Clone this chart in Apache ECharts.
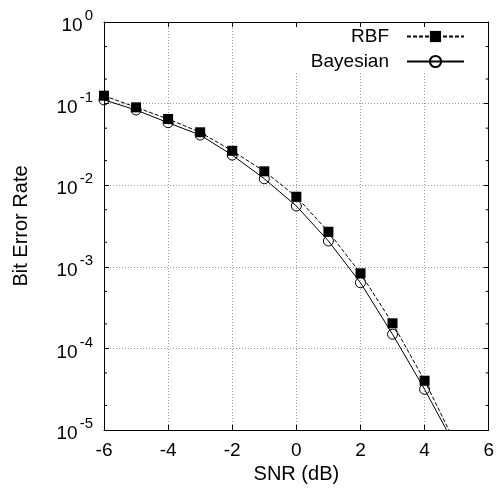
<!DOCTYPE html>
<html><head><meta charset="utf-8">
<script src="https://cdn.jsdelivr.net/npm/echarts@6/dist/echarts.min.js"></script>
<style>html,body{margin:0;padding:0;background:#fff}#c{width:497px;height:497px}</style>
</head><body><div id="c"></div>
<script>
const snr = [-6,-5,-4,-3,-2,-1,0,1,2,3,4,5];
const rbf = [0.125,0.090,0.0648,0.0445,0.0264,0.0148,0.00723,0.00269,0.000832,0.000203,0.0000402,0.0000064];
const bayesian = [0.111,0.0835,0.0583,0.0412,0.0234,0.0120,0.00556,0.00207,0.000638,0.000149,0.0000315,0.0000059];
const xTicks = [-6,-4,-2,0,2,4,6];
const minorTicks = [0.5,0.2,0.05,0.02,0.005,0.002,0.0005,0.0002,0.00005,0.00002];

const font = 'Liberation Sans';
const chart = echarts.init(document.getElementById('c'));
chart.setOption({
  animation: false,
  backgroundColor: '#fff',
  textStyle: {fontFamily: font},
  grid: {left: 104, right: 8, top: 22, bottom: 67},
  legend: {
    data: ['RBF','Bayesian'],
    orient: 'vertical', align: 'right',
    right: 12, top: 27,
    padding: [0, 20, 0, 17],
    itemGap: 6, itemWidth: 57, itemHeight: 14,
    backgroundColor: '#fff',
    textStyle: {fontFamily: font, fontSize: 19, color: '#000', lineHeight: 19, padding: [0, 13, 0, 0]}
  },
  xAxis: [{
    type: 'value', min: -6, max: 6, interval: 2,
    name: 'SNR (dB)', nameLocation: 'middle', nameGap: 31,
    nameTextStyle: {fontFamily: font, fontSize: 20, color: '#000'},
    axisLine: {onZero: false, lineStyle: {color: '#000', width: 1}},
    axisTick: {inside: true, length: 5, lineStyle: {color: '#000'}},
    axisLabel: {fontFamily: font, fontSize: 19, color: '#000', margin: 11,
      formatter: v => String(v)},
    splitLine: {show: true, lineStyle: {color: '#999', type: [1, 2], width: 1}}
  }, {
    type: 'value', min: -6, max: 6, interval: 2, position: 'top', z: 6,
    axisLine: {onZero: false, lineStyle: {color: '#000', width: 1}},
    axisTick: {inside: true, length: 5, lineStyle: {color: '#000'}},
    axisLabel: {show: false}, splitLine: {show: false}
  }],
  yAxis: [{
    type: 'log', logBase: 10, min: 1e-5, max: 1,
    name: 'Bit Error Rate', nameLocation: 'middle', nameGap: 73,
    nameTextStyle: {fontFamily: font, fontSize: 20, color: '#000'},
    axisLine: {onZero: false, lineStyle: {color: '#000', width: 1}},
    axisTick: {inside: true, length: 5, lineStyle: {color: '#000'}},
    axisLabel: {margin: 11, color: '#000',
      formatter: v => '{b|10}{s|' + Math.round(Math.log10(v)) + '}',
      rich: {
        b: {fontFamily: font, fontSize: 19, color: '#000', verticalAlign: 'bottom', lineHeight: 27},
        s: {fontFamily: font, fontSize: 15, color: '#000', verticalAlign: 'top', lineHeight: 15, padding: [0, 0, 0, 2]}
      }},
    splitLine: {show: true, lineStyle: {color: '#999', type: [1, 2], width: 1}}
  }, {
    type: 'log', logBase: 10, min: 1e-5, max: 1, position: 'right', z: 6,
    axisLine: {onZero: false, lineStyle: {color: '#000', width: 1}},
    axisTick: {inside: true, length: 5, lineStyle: {color: '#000'}},
    axisLabel: {show: false}, splitLine: {show: false}
  }],
  series: [{
    name: 'Bayesian', type: 'line', z: 2,
    data: snr.map((x, i) => [x, bayesian[i]]),
    symbol: 'circle', symbolSize: 10,
    lineStyle: {color: '#000', width: 1},
    itemStyle: {color: 'rgba(0,0,0,0)', borderColor: '#000', borderWidth: 1}
  }, {
    name: 'RBF', type: 'line', z: 3,
    data: snr.map((x, i) => [x, rbf[i]]),
    symbol: 'rect', symbolSize: 10,
    lineStyle: {color: '#000', width: 1, type: [4, 2]},
    itemStyle: {color: '#000'}
  }, {
    type: 'custom', z: 6, silent: true, clip: false,
    data: minorTicks.map(v => [0, v]),
    renderItem: (params, api) => {
      const v = api.value(1);
      const l = api.coord([-6, v]);
      const r = api.coord([6, v]);
      const st = {stroke: '#000', lineWidth: 1};
      return {type: 'group', children: [
        {type: 'line', shape: {x1: l[0], y1: l[1], x2: l[0] + 3, y2: l[1]}, style: st},
        {type: 'line', shape: {x1: r[0], y1: r[1], x2: r[0] - 3, y2: r[1]}, style: st}
      ]};
    }
  }]
});
</script></body></html>
